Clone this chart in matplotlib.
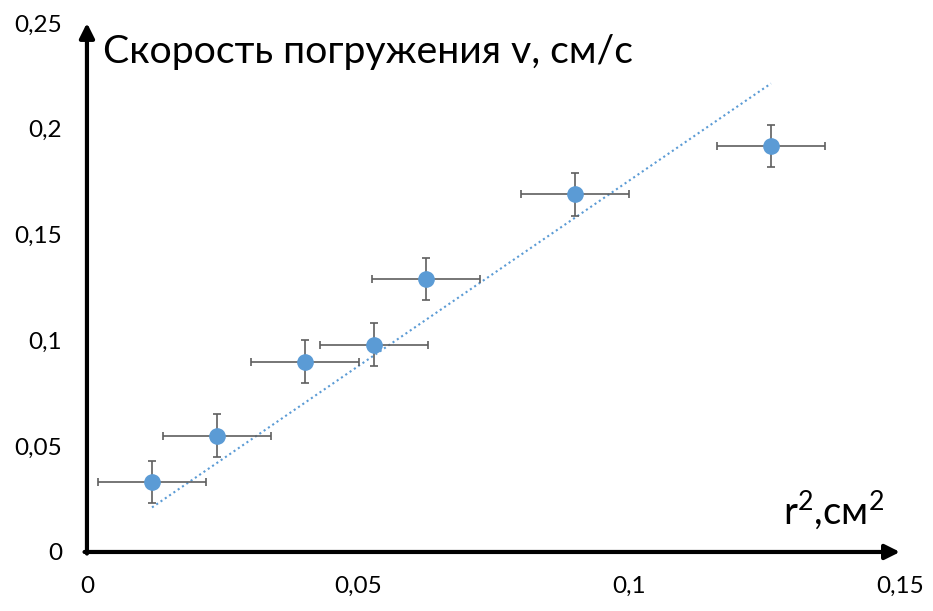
import numpy as np
import matplotlib
matplotlib.use('Agg')
import matplotlib.pyplot as plt

# данные: r^2 (см^2) и скорость погружения (см/с)
r2 = [0.012, 0.024, 0.0402, 0.053, 0.0625, 0.090, 0.1262]
v = [0.033, 0.055, 0.090, 0.098, 0.129, 0.169, 0.192]
r2_err = [0.01, 0.01, 0.01, 0.01, 0.01, 0.01, 0.01]
v_err = [0.01, 0.01, 0.01, 0.01, 0.01, 0.01, 0.01]

x_ticks = [0, 0.05, 0.1, 0.15]
x_labels = ['0', '0,05', '0,1', '0,15']
y_ticks = [0, 0.05, 0.1, 0.15, 0.2, 0.25]
y_labels = ['0', '0,05', '0,1', '0,15', '0,2', '0,25']

plt.rcParams['font.family'] = ['Lato', 'DejaVu Sans']
plt.rcParams['mathtext.fontset'] = 'custom'
plt.rcParams['mathtext.rm'] = 'Lato'
plt.rcParams['mathtext.it'] = 'Lato'

fig = plt.figure(figsize=(9.33, 6.11), dpi=100)
ax = fig.add_axes([0.0932, 0.0966, 0.8714, 0.8658])

x = np.array(r2)
y = np.array(v)

# линейный тренд через начало координат
k = np.sum(x * y) / np.sum(x * x)
xt = np.array([x.min(), x.max()])
ax.plot(xt, k * xt, color='#5B9BD5', linestyle=(0, (1, 1.5)), lw=1.5, zorder=2)

# точки с погрешностями
ax.errorbar(r2, v, xerr=r2_err, yerr=v_err, fmt='o', color='#5B9BD5',
            markersize=11, ecolor='#5f5f5f', elinewidth=1.2, capsize=3,
            capthick=1.2, zorder=3)

ax.set_xlim(0, 0.15)
ax.set_ylim(0, 0.25)
ax.set_xticks(x_ticks)
ax.set_xticklabels(x_labels)
ax.set_yticks(y_ticks)
ax.set_yticklabels(y_labels)
ax.tick_params(length=0, labelsize=17.5, colors='black')
ax.tick_params(axis='x', pad=17)
ax.tick_params(axis='y', pad=18)

for s in ax.spines.values():
    s.set_visible(False)

# оси со стрелками
arrow = dict(arrowstyle='-|>', lw=3, color='black', mutation_scale=22,
             shrinkA=0, shrinkB=0)
ax.annotate('', xy=(1.0, 0), xytext=(-0.003, 0), xycoords='axes fraction',
            arrowprops=arrow)
ax.annotate('', xy=(0, 1.0), xytext=(0, -0.003), xycoords='axes fraction',
            arrowprops=arrow)

# подписи осей
fig.text(103 / 933, 1 - 63 / 611, 'Скорость погружения v, см/с', fontsize=28.3,
         ha='left', va='baseline')
fig.text(783 / 933, 1 - 523 / 611, r'r$^{\rm 2}$,см$^{\rm 2}$', fontsize=27.5,
         ha='left', va='baseline')

fig.savefig('out.png', dpi=100)
